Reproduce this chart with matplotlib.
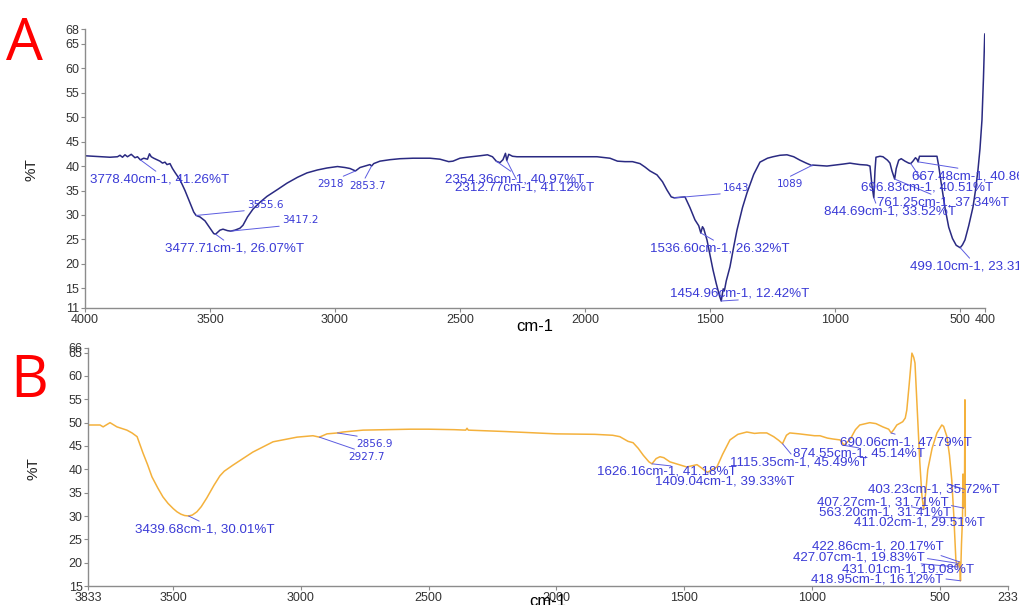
import numpy as np
import matplotlib.pyplot as plt

# ---- spectrum A (navy) : wavenumber cm-1 / %T ----
a_wn = [4000, 3950, 3900, 3870, 3860, 3850, 3840, 3830, 3815, 3800, 3790, 3765, 3750,
        3742, 3735, 3725, 3712, 3700, 3690, 3680, 3672, 3660, 3650, 3640, 3620, 3600,
        3580, 3565, 3540, 3520, 3500, 3485, 3460, 3448, 3430, 3400, 3380, 3368, 3350,
        3328, 3300, 3272, 3230, 3192, 3150, 3112, 3070, 3032, 2990, 2960, 2940, 2900,
        2880, 2860, 2845, 2820, 2780, 2740, 2688, 2620, 2580, 2545, 2528, 2500, 2472,
        2420, 2390, 2370, 2340, 2328, 2318, 2305, 2290, 2272, 2200, 2100, 2000, 1952,
        1900, 1870, 1840, 1810, 1780, 1760, 1740, 1712, 1690, 1672, 1655, 1620, 1600,
        1580, 1560, 1545, 1530, 1525, 1512, 1500, 1488, 1475, 1462, 1447, 1442, 1435,
        1420, 1405, 1392, 1370, 1352, 1325, 1300, 1270, 1248, 1220, 1192, 1165, 1140,
        1115, 1092, 1060, 1032, 1000, 968, 940, 928, 900, 872, 860, 852, 840, 836, 820,
        808, 790, 780, 772, 755, 745, 735, 720, 705, 688, 678, 672, 662, 640, 610, 592,
        585, 575, 560, 545, 530, 515, 490, 480, 465, 448, 438, 428, 420, 412, 406, 401, 400]
a_t = [42.1, 41.95, 41.8, 41.9, 42.2, 41.8, 42.3, 41.9, 42.4, 41.7, 41.9, 41.6, 41.4,
       42.5, 41.9, 41.6, 41.3, 41.0, 40.6, 40.8, 40.3, 40.5, 39.5, 38.7, 37.2, 35.0,
       32.5, 30.6, 29.6, 28.8, 27.3, 26.2, 26.9, 27.1, 26.8, 26.9, 27.3, 27.9, 29.6,
       31.2, 32.6, 33.8, 35.2, 36.5, 37.7, 38.6, 39.2, 39.6, 39.9, 39.7, 39.5, 39.7,
       40.0, 40.3, 40.5, 41.0, 41.3, 41.5, 41.6, 41.6, 41.4, 40.9, 41.0, 41.6, 41.8,
       42.1, 42.3, 41.9, 40.7, 41.3, 42.6, 42.4, 42.0, 41.9, 41.9, 41.9, 41.9, 41.9,
       41.6, 41.0, 40.9, 40.9, 40.5, 39.8, 39.0, 38.2, 36.8, 35.1, 33.7, 33.6, 33.7,
       31.5, 29.0, 27.8, 27.6, 27.2, 24.9, 21.8, 18.8, 16.0, 13.5, 14.9, 14.6, 16.5,
       19.4, 23.5, 26.9, 31.5, 34.5, 38.3, 40.8, 41.6, 41.9, 42.2, 42.3, 41.9, 41.2,
       40.6, 40.1, 40.1, 40.0, 40.2, 40.4, 40.6, 40.5, 40.3, 40.2, 40.0, 36.0, 39.0, 41.8, 42.0,
       41.9, 41.2, 40.6, 39.0, 39.5, 41.2, 41.5, 41.0, 40.6, 41.0, 41.7, 41.4, 42.0, 42.0, 42.0, 42.0,
       40.0, 36.5, 31.5, 27.5, 25.2, 23.8, 23.9, 24.9, 27.8, 31.6, 35.0, 39.2, 43.5, 49.4, 58.0, 66.8, 67.0]

# labelled peaks of A
a_peak_wn = [3778.40, 3477.71, 2354.36, 2312.77, 1536.60, 1454.96, 844.69, 761.25, 696.83, 667.48, 499.10]
a_peak_t = [41.26, 26.07, 40.97, 41.12, 26.32, 12.42, 33.52, 37.34, 40.51, 40.86, 23.31]
# short band labels of A
a_band_wn = [3555.6, 3417.2, 2918, 2853.7, 1643, 1089]
a_band_t = [29.9, 26.7, 39.0, 40.0, 33.5, 40.2]

# ---- spectrum B (orange) ----
b_wn = [3833, 3786, 3774, 3747, 3720, 3681, 3661, 3641, 3618, 3600, 3583, 3560, 3540,
        3520, 3500, 3485, 3470, 3455, 3425, 3407, 3390, 3368, 3340, 3317, 3300, 3266,
        3188, 3109, 3015, 2953, 2898, 2835, 2757, 2573, 2500,
        2400, 2355, 2350, 2345, 2200, 2000, 1850, 1780, 1752, 1720, 1700, 1680, 1660,
        1638, 1610, 1595, 1580, 1556, 1520, 1490, 1465, 1450, 1430, 1390, 1372, 1350,
        1321, 1290, 1255, 1225, 1204, 1177, 1150, 1130, 1100, 1087, 1050, 1020, 990, 969,
        940, 918, 890, 850, 830, 813, 774, 750, 723, 700, 680, 668, 645, 635, 629, 620,
        609, 602, 597, 590, 578, 570, 555, 547, 530, 511, 492, 485, 472, 462, 453, 445,
        437, 415, 409, 405, 401.5, 400]
b_t = [49.5, 49.5, 49.1, 50.0, 49.1, 48.4, 47.8, 47.0, 43.5, 41.0, 38.4, 36.0, 34.1,
       32.7, 31.6, 30.9, 30.4, 30.1, 30.2, 30.9, 32.0, 33.9, 36.6, 38.6, 39.6, 40.9,
       43.7, 45.9, 46.9, 47.2, 47.6, 48.0, 48.4, 48.6, 48.6,
       48.5, 48.4, 48.8, 48.4, 48.1, 47.6, 47.5, 47.3, 47.0, 46.0, 45.7, 44.5, 43.0,
       41.6, 42.3, 42.7, 42.5, 41.6, 41.0, 40.5, 40.8, 41.0, 40.2, 40.0, 40.5, 43.2,
       46.3, 47.5, 48.0, 47.7, 47.8, 47.8, 47.0, 46.2, 47.3, 47.8, 47.6, 47.4, 47.2, 47.2,
       46.7, 46.5, 46.3, 46.5, 48.5, 49.5, 50.0, 49.8, 49.1, 48.6, 48.5, 49.5, 50.2, 51.0, 52.7, 58.0,
       64.9, 64.0, 62.8, 55.0, 41.4, 34.5, 35.0, 39.9, 44.5, 47.8, 49.5, 49.2, 47.0, 43.0, 37.7, 30.0,
       20.6, 24.0, 39.0, 33.5, 54.9, 30.0]

b_peak_wn = [3439.68, 1626.16, 1409.04, 1115.35, 874.55, 690.06, 403.23, 407.27, 563.20,
             411.02, 422.86, 427.07, 431.01, 418.95]
b_peak_t = [30.01, 41.18, 39.33, 45.49, 45.14, 47.79, 35.72, 31.71, 31.41,
            29.51, 20.17, 19.83, 19.08, 16.12]
b_band_wn = [2927.7, 2856.9]
b_band_t = [46.9, 47.8]

# label placement: text left/centre (wn, %T) and where the leader meets the text box
a_peak_pos = [(3980, 37.15), (3680, 23.06), (2560, 37.15), (2520, 35.52), (1740, 23.06),
              (1660, 13.86), (1044, 30.62), (832, 32.45), (896, 35.52), (692, 37.77), (700, 19.38)]
a_peak_rel = [(0.5, 1), (0.45, 1), (0.5, 1), (0.45, 1), (0.49, 1), (0.49, 0), (0.4, 1),
              (0.46, 1), (0.47, 1), (0.48, 1), (0.47, 1)]
a_band_pos = [(3352, 32.05), (3212, 29.0), (3072, 36.33), (2944, 35.93), (1448, 35.52), (1232, 36.33)]
a_band_rel = [(0.15, 0), (0.3, 0), (0.75, 1), (0.4, 1), (0.3, 0), (0.3, 1)]

b_peak_pos = [(3649, 27.03), (1842, 39.45), (1615, 37.3), (1321, 41.4), (1075, 43.3), (891, 45.66),
              (781, 35.6), (981, 33.0), (973, 30.67), (836, 28.53), (1000, 23.4), (1075, 21.03),
              (883, 18.46), (1004, 16.5)]
b_peak_rel = [(0.5, 1), (0.53, 1), (0.4, 1), (0.46, 1), (0.5, 1), (0.49, 1), (0.6, 1), (0.65, 1),
              (0.7, 1), (0.6, 1), (0.65, 1), (0.7, 1), (0.6, 1), (0.65, 1)]
b_band_pos = [(2816, 42.66), (2785, 45.44)]
b_band_rel = [(0.4, 1), (0.5, 1)]

label_col = '#3a3ad6'
lead_col = '#5c5ce0'
axis_col = '#8c8c8c'
tick_col = '#333333'

plt.rcParams['font.family'] = ['Liberation Sans', 'DejaVu Sans']

fig = plt.figure(figsize=(10.19, 6.05), dpi=100)
ax_a = fig.add_axes([0.0834, 0.491, 0.8832, 0.461])
ax_b = fig.add_axes([0.0864, 0.0314, 0.9028, 0.3934])


def merged(wn, t, pk_wn, pk_t, bd_wn, bd_t):
    x = np.concatenate([wn, pk_wn, bd_wn])
    y = np.concatenate([t, pk_t, bd_t])
    order = np.argsort(-x)
    return x[order], y[order]


def style(ax, xlim, ylim, xticks, yticks):
    ax.set_xlim(*xlim)
    ax.set_ylim(*ylim)
    ax.set_xticks(xticks)
    ax.set_yticks(yticks)
    for s in ['top', 'right']:
        ax.spines[s].set_visible(False)
    for s in ['left', 'bottom']:
        ax.spines[s].set_color(axis_col)
        ax.spines[s].set_linewidth(1.0)
    ax.tick_params(colors=axis_col, labelcolor=tick_col, labelsize=9, length=3, width=0.8, pad=1)
    ax.text(-0.059, 0.495, '%T', rotation=90, transform=ax.transAxes, ha='center', va='center',
            fontsize=11, color='#222222')


def label(ax, txt, xy, pos, rel, size, family=None):
    kw = {} if family is None else {'family': family}
    ax.annotate(txt, xy=xy, xytext=pos, textcoords='data', ha='left', va='center',
                fontsize=size, color=label_col, annotation_clip=False,
                arrowprops=dict(arrowstyle='-', color=lead_col, lw=0.7, shrinkA=0, shrinkB=0,
                                relpos=rel), **kw)


# A
x, y = merged(a_wn, a_t, a_peak_wn, a_peak_t, a_band_wn, a_band_t)
ax_a.plot(x, y, color='#2a2a82', lw=1.1)
style(ax_a, (4000, 400), (11, 68), [4000, 3500, 3000, 2500, 2000, 1500, 1000, 500, 400],
      [11, 15, 20, 25, 30, 35, 40, 45, 50, 55, 60, 65, 68])
for w, t, p, r in zip(a_peak_wn, a_peak_t, a_peak_pos, a_peak_rel):
    label(ax_a, f"{w:.2f}cm-1, {t:.2f}%T", (w, t), p, r, 9.6)
for w, t, p, r in zip(a_band_wn, a_band_t, a_band_pos, a_band_rel):
    label(ax_a, f"{w:g}", (w, t), p, r, 7.5, family='DejaVu Sans')
ax_a.text(0.5, -0.065, 'cm-1', transform=ax_a.transAxes, ha='center', va='center', fontsize=12)

# B
x, y = merged(b_wn, b_t, b_peak_wn, b_peak_t, b_band_wn, b_band_t)
ax_b.plot(x, y, color='#f4b13c', lw=1.1)
style(ax_b, (3833, 233), (15, 66), [3833, 3500, 3000, 2500, 2000, 1500, 1000, 500, 233],
      [15, 20, 25, 30, 35, 40, 45, 50, 55, 60, 65, 66])
for w, t, p, r in zip(b_peak_wn, b_peak_t, b_peak_pos, b_peak_rel):
    label(ax_b, f"{w:.2f}cm-1, {t:.2f}%T", (w, t), p, r, 9.6)
for w, t, p, r in zip(b_band_wn, b_band_t, b_band_pos, b_band_rel):
    label(ax_b, f"{w:g}", (w, t), p, r, 7.5, family='DejaVu Sans')
ax_b.text(0.5, -0.067, 'cm-1', transform=ax_b.transAxes, ha='center', va='center', fontsize=12)

# panel letters
fig.text(0.006, 0.901, 'A', color='#ff0000', fontsize=42, family='Open Sans', ha='left', va='baseline')
fig.text(0.010, 0.344, 'B', color='#ff0000', fontsize=42, family='Open Sans', ha='left', va='baseline')

fig.savefig('out.png', dpi=100)
